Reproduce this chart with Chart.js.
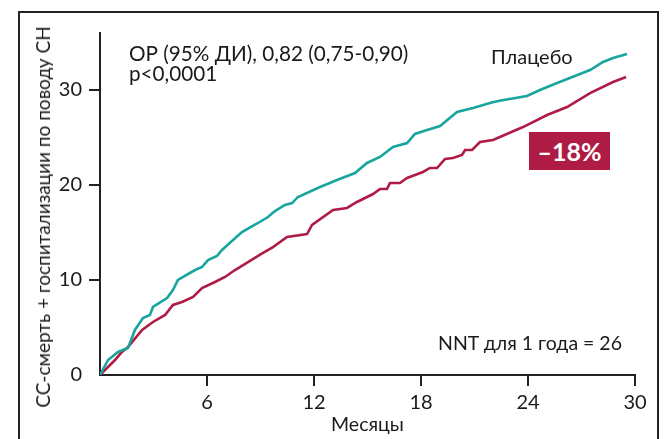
<!DOCTYPE html>
<html><head><meta charset="utf-8">
<script src="https://cdn.jsdelivr.net/npm/chart.js@4.4.1/dist/chart.umd.min.js"></script>
<style>
html,body{margin:0;padding:0;background:#fff;}
#wrap{position:relative;width:668px;height:439px;overflow:hidden;font-family:Lato,sans-serif;color:#1a1a1a;}
#frame{position:absolute;left:18px;top:11px;width:637px;height:450px;border:2px solid #222;}
canvas{position:absolute;left:0;top:0;}
.t{position:absolute;font-size:20px;line-height:24px;white-space:nowrap;}
#ytitle{position:absolute;left:43px;top:217px;transform:translate(-50%,-50%) rotate(-90deg);font-size:19px;line-height:22px;white-space:nowrap;}
#box{position:absolute;left:529px;top:132px;width:81px;height:38px;background:#ae1c45;color:#fff;font-weight:bold;font-size:25px;line-height:38px;text-align:center;}
</style></head>
<body><div id="wrap"><div id="frame"></div><canvas id="c" width="668" height="439"></canvas>
<div id="ytitle"></div>
<div class="t" style="left:129px;top:41px;font-size:20.7px">ОР (95% ДИ), 0,82 (0,75-0,90)</div>
<div class="t" style="left:129px;top:61px;font-size:20.7px">p&lt;0,0001</div>
<div class="t" style="left:491px;top:44px">Плацебо</div>
<div class="t" style="left:438px;top:331px;font-size:19.5px">NNT для 1 года = 26</div>
<div id="box">–18%</div>
</div>
<script>
const xTicks = [6, 12, 18, 24, 30];
const yTicks = [0, 10, 20, 30];
const placeboMonths = [0,0.45,1.01,1.57,1.96,2.41,2.8,2.97,3.76,4.09,4.37,5.33,5.72,6.06,6.56,6.84,7.96,8.86,9.42,9.81,10.37,10.77,11.1,12.34,13.29,14.3,14.97,15.7,16.43,17.22,17.66,18.34,19.07,20.02,20.92,21.87,22.32,23.94,24.67,25.63,27.48,28.21,28.77,29.55];
const placeboValues = [0,1.58,2.42,2.84,4.74,6.0,6.32,7.16,8.1,8.95,10.0,11.05,11.37,12.1,12.53,13.16,15.05,16.0,16.63,17.26,17.9,18.1,18.74,19.79,20.53,21.26,22.32,22.95,24.0,24.42,25.37,25.79,26.21,27.68,28.1,28.63,28.84,29.37,30.0,30.74,32.1,32.95,33.37,33.79];
const drugMonths = [0,0.84,1.23,1.57,2.36,2.97,3.65,4.09,4.6,5.22,5.72,6.45,7.01,7.57,8.3,9.0,9.7,10.49,11.61,11.89,13.07,13.85,14.41,15.31,15.7,16.09,16.26,16.82,17.22,18.11,18.5,18.9,19.35,19.79,20.3,20.47,20.86,21.31,22.04,23.72,25.07,26.19,27.48,28.77,29.5];
const drugValues = [0,1.58,2.42,2.95,4.74,5.58,6.32,7.37,7.68,8.21,9.16,9.79,10.32,11.05,11.89,12.7,13.47,14.53,14.84,15.79,17.37,17.58,18.21,19.05,19.58,19.58,20.21,20.21,20.74,21.37,21.79,21.79,22.74,22.84,23.16,23.68,23.68,24.53,24.74,26.1,27.37,28.21,29.68,30.84,31.37];
const seriesNames = ['Плацебо', 'Препарат'];
const xTitle = 'Месяцы';
const yTitle = 'СС-смерть + госпитализации по поводу СН';
document.getElementById('ytitle').textContent = yTitle;

const toPts = (xs, ys) => xs.map((x, i) => ({x, y: ys[i]}));
const font = {family: 'Lato', size: 20};
new Chart(document.getElementById('c'), {
  type: 'scatter',
  data: {datasets: [
    {label: seriesNames[0], data: toPts(placeboMonths, placeboValues), showLine: true, borderColor: '#17a59d', borderWidth: 2.6, pointRadius: 0, tension: 0},
    {label: seriesNames[1], data: toPts(drugMonths, drugValues), showLine: true, borderColor: '#ae1c45', borderWidth: 2.6, pointRadius: 0, tension: 0}
  ]},
  options: {
    responsive: false, animation: false,
    layout: {padding: {left: 0, right: 33, top: 33, bottom: 0}},
    plugins: {legend: {display: false}, tooltip: {enabled: false}},
    scales: {
      x: {type: 'linear', min: 0, max: 30,
        afterBuildTicks: a => { a.ticks = xTicks.map(v => ({value: v})); },
        afterFit: a => { a.height = 64; },
        border: {color: '#222', width: 2},
        grid: {drawOnChartArea: false, drawTicks: true, tickLength: 11, color: '#222', lineWidth: 2},
        ticks: {color: '#1a1a1a', font: font, padding: 5, maxRotation: 0},
        title: {display: true, text: xTitle, color: '#1a1a1a', font: {family: 'Lato', size: 19.5}, padding: {top: 0, bottom: 3}}
      },
      y: {type: 'linear', min: 0, max: 36,
        afterBuildTicks: a => { a.ticks = yTicks.map(v => ({value: v})); },
        afterFit: a => { a.width = 100; },
        border: {color: '#222', width: 2},
        grid: {drawOnChartArea: false, drawTicks: true, tickLength: 11, lineWidth: 2, color: c => (c.tick && c.tick.value === 0) ? 'rgba(0,0,0,0)' : '#222'},
        ticks: {color: '#1a1a1a', font: font, padding: 7},
        title: {display: false, text: yTitle}
      }
    }
  }
});
</script></body></html>
